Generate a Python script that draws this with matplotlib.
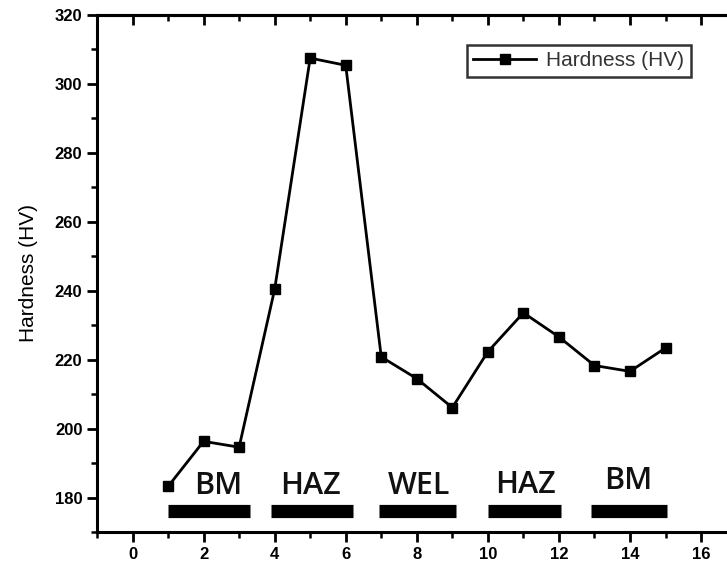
import numpy as np
import matplotlib
matplotlib.use('Agg')
import matplotlib.pyplot as plt
from matplotlib.ticker import MultipleLocator

# Perfil de dureza a lo largo de la soldadura
position = [1, 2, 3, 4, 5, 6, 7, 8, 9, 10, 11, 12, 13, 14, 15]
hardness = [183.2, 196.3, 194.6, 240.4, 307.5, 305.4, 220.8, 214.5, 206.1,
            222.3, 233.6, 226.6, 218.3, 216.6, 223.4]

# Zonas marcadas bajo la curva
zone_names = ['BM', 'HAZ', 'WEL', 'HAZ', 'BM']
zone_start = [1.0, 3.9, 6.95, 10.0, 12.9]
zone_end = [3.3, 6.2, 9.1, 12.05, 15.05]
label_x = [2.4, 5.0, 8.05, 11.05, 13.95]
label_y = [181.0, 181.0, 181.0, 181.3, 182.6]
bar_y = 176.1

plt.rcParams['font.family'] = ['Liberation Sans', 'DejaVu Sans']

fig = plt.figure(figsize=(7.27, 5.68), dpi=100)
ax = fig.add_axes([0.1334, 0.0634, 0.87, 0.9102])

ax.plot(position, hardness, '-', color='black', lw=2.0, marker='s',
        markersize=7, label='Hardness (HV)')

for x0, x1 in zip(zone_start, zone_end):
    ax.plot([x0, x1], [bar_y, bar_y], color='black', lw=9.5,
            solid_capstyle='butt')
for name, xl, yl in zip(zone_names, label_x, label_y):
    ax.text(xl, yl, name, ha='center', va='baseline', fontsize=22,
            family=['Open Sans', 'DejaVu Sans'], fontweight='semibold',
            color='#111111')

ax.set_xlim(-1, 16.8)
ax.set_ylim(170, 320)
ax.xaxis.set_major_locator(MultipleLocator(2))
ax.xaxis.set_minor_locator(MultipleLocator(1))
ax.yaxis.set_major_locator(MultipleLocator(20))
ax.yaxis.set_minor_locator(MultipleLocator(10))

for s in ['left', 'bottom', 'top']:
    ax.spines[s].set_linewidth(2.2)
ax.spines['right'].set_visible(False)

ax.tick_params(axis='both', which='major', length=7, width=2,
               labelsize=12, direction='out')
ax.tick_params(axis='both', which='minor', length=4, width=1.8,
               direction='out')
for lab in ax.get_xticklabels() + ax.get_yticklabels():
    lab.set_fontweight('bold')

# ticks de arriba hacia adentro
top = ax.secondary_xaxis('top')
top.xaxis.set_major_locator(MultipleLocator(2))
top.xaxis.set_minor_locator(MultipleLocator(1))
top.tick_params(which='major', direction='in', length=7, width=2,
                labeltop=False)
top.tick_params(which='minor', direction='in', length=4, width=1.8)
top.spines['top'].set_linewidth(2.2)

ax.set_ylabel('Hardness (HV)', fontsize=15, labelpad=12)

leg = ax.legend(loc='upper right', bbox_to_anchor=(0.955, 0.962), fontsize=15,
                frameon=True, fancybox=False, handlelength=3.0,
                borderpad=0.3, handletextpad=0.5)
leg.get_frame().set_edgecolor('black')
leg.get_frame().set_linewidth(1.8)
for t in leg.get_texts():
    t.set_color('#333333')

plt.savefig('out.png', dpi=100)
